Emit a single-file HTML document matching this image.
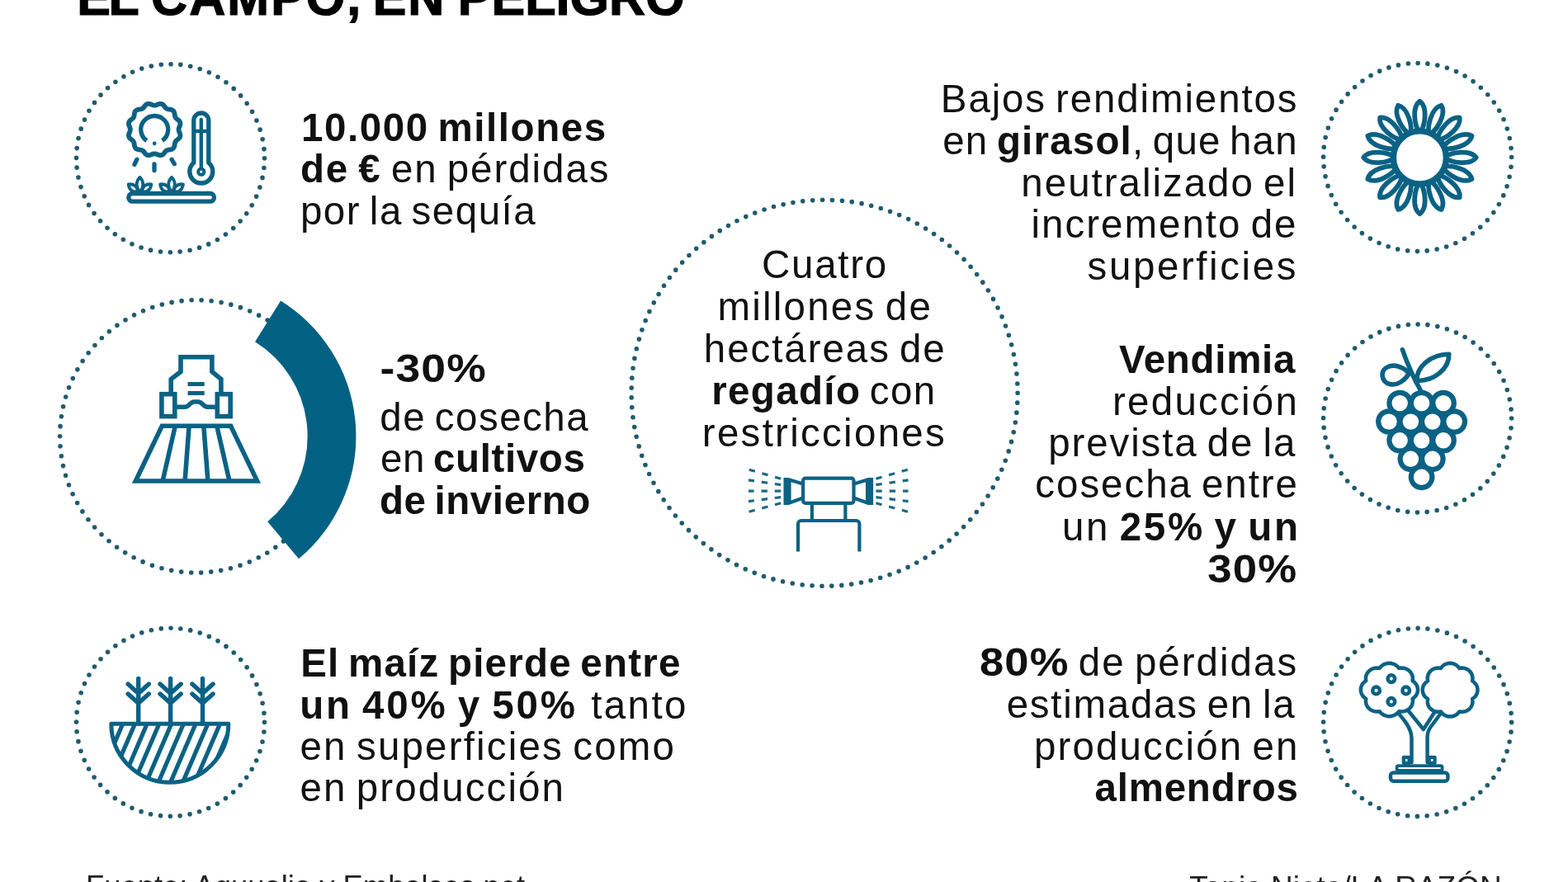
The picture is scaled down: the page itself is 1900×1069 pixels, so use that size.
<!DOCTYPE html>
<html lang="es">
<head>
<meta charset="utf-8">
<title>El campo, en peligro</title>
<style>
html,body{margin:0;padding:0;background:#fff;}
body{width:1900px;height:1069px;overflow:hidden;font-family:'Liberation Sans',sans-serif;}
svg{display:block;position:absolute;left:0;top:0;}
text{font-family:'Liberation Sans',sans-serif;fill:#111;}
.dot{fill:none;stroke:#1f5b6e;stroke-width:5.6;stroke-linecap:round;}
.ic{fill:none;stroke:#0b6284;stroke-width:5;stroke-linecap:round;stroke-linejoin:round;}
</style>
</head>
<body>
<svg width="1900" height="1069" viewBox="0 0 1900 1069">
<circle class="dot" cx="206.5" cy="191.7" r="114" stroke-dasharray="0 11.9381" transform="rotate(0 206.5 191.7)"/>
<circle class="dot" cx="237.8" cy="528.9" r="165.2" stroke-dasharray="0 12.0696" transform="rotate(0 237.8 528.9)"/>
<circle class="dot" cx="206.5" cy="875.3" r="114" stroke-dasharray="0 11.9381" transform="rotate(0 206.5 875.3)"/>
<circle class="dot" cx="999.1" cy="476.3" r="234" stroke-dasharray="0 11.9534" transform="rotate(0 999.1 476.3)"/>
<circle class="dot" cx="1717.6" cy="190.5" r="114" stroke-dasharray="0 11.9381" transform="rotate(0 1717.6 190.5)"/>
<circle class="dot" cx="1717.6" cy="507" r="114" stroke-dasharray="0 11.9381" transform="rotate(0 1717.6 507)"/>
<circle class="dot" cx="1717.6" cy="875.4" r="114" stroke-dasharray="0 11.9381" transform="rotate(0 1717.6 875.4)"/>
<path d="M324.57 389.40 A164.2 164.2 0 0 1 343.13 654.77" fill="none" stroke="#026183" stroke-width="58.8"/>
<g class="ic" id="ico-sun" stroke-width="5.3" style="stroke-width:5.3">
<path d="M187.2 127.7L188.2 127.6L189.3 127.3L190.4 126.9L191.5 126.4L192.7 126.0L193.8 125.8L195.0 125.8L196.1 126.1L197.1 126.6L198.0 127.4L198.8 128.3L199.5 129.3L200.3 130.2L201.0 131.0L201.8 131.6L202.8 132.0L203.9 132.3L205.0 132.5L206.2 132.6L207.4 132.9L208.6 133.3L209.5 133.9L210.3 134.7L210.9 135.6L211.3 136.8L211.6 138.0L211.7 139.2L211.9 140.3L212.2 141.4L212.6 142.3L213.2 143.2L214.0 143.9L214.9 144.7L215.9 145.4L216.8 146.2L217.6 147.1L218.1 148.1L218.4 149.2L218.4 150.4L218.2 151.5L217.8 152.7L217.3 153.8L216.9 154.9L216.6 156.0L216.5 157.0L216.6 158.0L216.9 159.1L217.3 160.2L217.8 161.3L218.2 162.5L218.4 163.6L218.4 164.8L218.1 165.9L217.6 166.9L216.8 167.8L215.9 168.6L214.9 169.3L214.0 170.1L213.2 170.8L212.6 171.7L212.2 172.6L211.9 173.7L211.7 174.8L211.6 176.0L211.3 177.2L210.9 178.4L210.3 179.3L209.5 180.1L208.6 180.7L207.4 181.1L206.2 181.4L205.0 181.5L203.9 181.7L202.8 182.0L201.8 182.4L201.0 183.0L200.3 183.8L199.5 184.7L198.8 185.7L198.0 186.6L197.1 187.4L196.1 187.9L195.0 188.2L193.8 188.2L192.7 188.0L191.5 187.6L190.4 187.1L189.3 186.7L188.2 186.4L187.2 186.3L186.2 186.4L185.1 186.7L184.0 187.1L182.9 187.6L181.7 188.0L180.6 188.2L179.4 188.2L178.3 187.9L177.3 187.4L176.4 186.6L175.6 185.7L174.9 184.7L174.1 183.8L173.4 183.0L172.5 182.4L171.6 182.0L170.5 181.7L169.4 181.5L168.2 181.4L167.0 181.1L165.8 180.7L164.9 180.1L164.1 179.3L163.5 178.4L163.1 177.2L162.8 176.0L162.7 174.8L162.5 173.7L162.2 172.6L161.8 171.7L161.2 170.8L160.4 170.1L159.5 169.3L158.5 168.6L157.6 167.8L156.8 166.9L156.3 165.9L156.0 164.8L156.0 163.6L156.2 162.5L156.6 161.3L157.1 160.2L157.5 159.1L157.8 158.0L157.9 157.0L157.8 156.0L157.5 154.9L157.1 153.8L156.6 152.7L156.2 151.5L156.0 150.4L156.0 149.2L156.3 148.1L156.8 147.1L157.6 146.2L158.5 145.4L159.5 144.7L160.4 143.9L161.2 143.2L161.8 142.3L162.2 141.4L162.5 140.3L162.7 139.2L162.8 138.0L163.1 136.8L163.5 135.6L164.1 134.7L164.9 133.9L165.8 133.3L167.0 132.9L168.2 132.6L169.4 132.5L170.5 132.3L171.6 132.0L172.5 131.6L173.4 131.0L174.1 130.2L174.9 129.3L175.6 128.3L176.4 127.4L177.3 126.6L178.3 126.1L179.4 125.8L180.6 125.8L181.7 126.0L182.9 126.4L184.0 126.9L185.1 127.3L186.2 127.6Z" stroke-width="5.8" style="stroke-width:5.8"/>
<path d="M196.7 170.5A16.5 16.5 0 1 0 177.7 170.5" stroke-linecap="butt" style="stroke-linecap:butt"/>
<path d="M187.2 173.8v0.1" stroke-width="4.6" style="stroke-width:4.6"/>
<path d="M165.9 193.2L162.9 199.4M187 198.8V206.6M208.1 193.2L211.3 198.8"/>
<path d="M234.8 146a9 9 0 0 1 18 0V197.3a14 14 0 1 1 -18 0Z"/>
<path d="M243.8 145V204M236 159H251.6" stroke-width="4.4"/>
<circle cx="243.8" cy="208.2" r="3.6" stroke-width="4"/>
<rect x="155.8" y="234.5" width="103.7" height="9.7" rx="4.8"/>
<g transform="translate(169.5 232.3)" stroke-width="3.8" style="stroke-width:3.8"><path d="M0 0C-5 -5 -5.200 -12 0 -17.500C5.200 -12 5 -5 0 0Z"/><path d="M0 0C-4.500 -4 -5 -9.500 0 -14.500C5 -9.500 4.500 -4 0 0Z" transform="translate(-2.500 0) rotate(-52)"/><path d="M0 0C-4.500 -4 -5 -9.500 0 -14.500C5 -9.500 4.500 -4 0 0Z" transform="translate(2.500 0) rotate(52)"/></g>
<g transform="translate(208.0 232.3)" stroke-width="3.8" style="stroke-width:3.8"><path d="M0 0C-5 -5 -5.200 -12 0 -17.500C5.200 -12 5 -5 0 0Z"/><path d="M0 0C-4.500 -4 -5 -9.500 0 -14.500C5 -9.500 4.500 -4 0 0Z" transform="translate(-2.500 0) rotate(-52)"/><path d="M0 0C-4.500 -4 -5 -9.500 0 -14.500C5 -9.500 4.500 -4 0 0Z" transform="translate(2.500 0) rotate(52)"/></g>
</g>
<g class="ic" id="ico-tractor" stroke-width="5.6" style="stroke-width:5.6;stroke-linejoin:miter;stroke-linecap:butt">
<path d="M196.3 516.3H279.6L311.6 583H164.3Z"/>
<path d="M212.3 516.3L197.1 583M229.1 516.3L224.1 583M246.8 516.3L251.9 583M262.8 516.3L278 583"/>
<path d="M207.2 477V459.6L219 450.5V432.8H256.9V450.5L267.9 459.6V477"/>
<rect x="195.9" y="477.7" width="15.9" height="26.9"/>
<rect x="263.3" y="477.700" width="15.9" height="26.9"/>
<path d="M212 493.2H224C229.500 493.2 230 487 235.500 487H240C245.500 487 246 493.2 251.500 493.2H263"/>
<path d="M227.500 465.5H247.7M227.500 476.4H247.7" stroke-width="5"/>
</g>
<g class="ic" id="ico-corn">
<clipPath id="bowl"><path d="M134.8 877.3H276.8A71 71 0 0 1 134.8 877.3Z"/></clipPath>
<path d="M135.8 873.3L99.7 957.3M150.5 873.3L114.4 957.3M165.2 873.3L129.1 957.3M179.9 873.3L143.8 957.3M194.6 873.3L158.5 957.3M209.4 873.3L173.3 957.3M224.1 873.3L188.0 957.3M238.8 873.3L202.7 957.3M253.6 873.3L217.5 957.3M268.3 873.3L232.2 957.3M283.0 873.3L246.9 957.3M297.7 873.3L261.6 957.3M312.4 873.3L276.3 957.3" clip-path="url(#bowl)" stroke-linecap="butt" style="stroke-linecap:butt" stroke-width="5.2"/>
<path d="M134.8 877.3H276.8A71 71 0 0 1 134.8 877.3Z"/>
<path d="M167.7 877.3V822.5M155.1 829.1L167.7 840.4L180.3 829.1M155.1 841.0L167.7 852.3L180.3 841.0M206.6 877.3V822.5M194.0 829.1L206.6 840.4L219.2 829.1M194.0 841.0L206.6 852.3L219.2 841.0M245.5 877.3V822.5M232.9 829.1L245.5 840.4L258.1 829.1M232.9 841.0L245.5 852.3L258.1 841.0" stroke-width="5.4"/>
</g>
<g class="ic" id="ico-sprinkler" stroke-width="4.2" style="stroke-width:4.2">
<rect x="973.1" y="579.6" width="61.4" height="30.2" rx="3"/>
<path d="M973 586.5L956.5 581.5V609.5L973 603.5M1034.6 586.5L1051.1 581.5V609.5L1034.6 603.5"/>
<path d="M953 579V612M1054.6 579V612" stroke-width="7" stroke-linecap="butt" style="stroke-width:7;stroke-linecap:butt"/>
<path d="M946.2 580.2L907 569.0M1061.4 580.2L1100.6 569.0M946.2 587.6L907 581.8M1061.4 587.6L1100.6 581.8M946.2 595.2L907 595.2M1061.4 595.2L1100.6 595.2M946.2 602.6L907 607.6M1061.4 602.6L1100.6 607.6M946.2 609.8L907 620.4M1061.4 609.8L1100.6 620.4" stroke-width="3.2" stroke-dasharray="7.4 8.9" stroke-linecap="butt" style="stroke-width:3.2;stroke-linecap:butt;stroke:#1a6a86"/>
<path d="M983.9 611V630M1024.4 611V630"/>
<path d="M967 668.5V635a4 4 0 0 1 4-4H1037.4a4 4 0 0 1 4 4V668.5" stroke-linecap="butt" style="stroke-linecap:butt"/>
</g>
<g class="ic" id="ico-sunflower" stroke-width="5.8" style="stroke-width:5.8" transform="translate(1720.4 190.9)">
<path d="M0 -30C-6.5 -38 -10 -61 0 -68.3C10 -61 6.5 -38 0 -30Z" transform="rotate(0.0)"/>
<path d="M0 -30C-6.5 -38 -10 -61 0 -68.3C10 -61 6.5 -38 0 -30Z" transform="rotate(22.5)"/>
<path d="M0 -30C-6.5 -38 -10 -61 0 -68.3C10 -61 6.5 -38 0 -30Z" transform="rotate(45.0)"/>
<path d="M0 -30C-6.5 -38 -10 -61 0 -68.3C10 -61 6.5 -38 0 -30Z" transform="rotate(67.5)"/>
<path d="M0 -30C-6.5 -38 -10 -61 0 -68.3C10 -61 6.5 -38 0 -30Z" transform="rotate(90.0)"/>
<path d="M0 -30C-6.5 -38 -10 -61 0 -68.3C10 -61 6.5 -38 0 -30Z" transform="rotate(112.5)"/>
<path d="M0 -30C-6.5 -38 -10 -61 0 -68.3C10 -61 6.5 -38 0 -30Z" transform="rotate(135.0)"/>
<path d="M0 -30C-6.5 -38 -10 -61 0 -68.3C10 -61 6.5 -38 0 -30Z" transform="rotate(157.5)"/>
<path d="M0 -30C-6.5 -38 -10 -61 0 -68.3C10 -61 6.5 -38 0 -30Z" transform="rotate(180.0)"/>
<path d="M0 -30C-6.5 -38 -10 -61 0 -68.3C10 -61 6.5 -38 0 -30Z" transform="rotate(202.5)"/>
<path d="M0 -30C-6.5 -38 -10 -61 0 -68.3C10 -61 6.5 -38 0 -30Z" transform="rotate(225.0)"/>
<path d="M0 -30C-6.5 -38 -10 -61 0 -68.3C10 -61 6.5 -38 0 -30Z" transform="rotate(247.5)"/>
<path d="M0 -30C-6.5 -38 -10 -61 0 -68.3C10 -61 6.5 -38 0 -30Z" transform="rotate(270.0)"/>
<path d="M0 -30C-6.5 -38 -10 -61 0 -68.3C10 -61 6.5 -38 0 -30Z" transform="rotate(292.5)"/>
<path d="M0 -30C-6.5 -38 -10 -61 0 -68.3C10 -61 6.5 -38 0 -30Z" transform="rotate(315.0)"/>
<path d="M0 -30C-6.5 -38 -10 -61 0 -68.3C10 -61 6.5 -38 0 -30Z" transform="rotate(337.5)"/>
<circle cx="0" cy="0" r="32" fill="#fff" style="fill:#fff;stroke-width:7.4"/>
</g>
<g class="ic" id="ico-grapes" stroke-width="6.2" style="stroke-width:6.2">
<circle cx="1696.2" cy="488.6" r="12.8" fill="#fff" style="fill:#fff"/>
<circle cx="1722.6" cy="488.6" r="12.8" fill="#fff" style="fill:#fff"/>
<circle cx="1749.0" cy="488.6" r="12.8" fill="#fff" style="fill:#fff"/>
<circle cx="1683.0" cy="511.1" r="12.8" fill="#fff" style="fill:#fff"/>
<circle cx="1709.4" cy="511.1" r="12.8" fill="#fff" style="fill:#fff"/>
<circle cx="1735.8" cy="511.1" r="12.8" fill="#fff" style="fill:#fff"/>
<circle cx="1762.2" cy="511.1" r="12.8" fill="#fff" style="fill:#fff"/>
<circle cx="1696.2" cy="533.8" r="12.8" fill="#fff" style="fill:#fff"/>
<circle cx="1722.6" cy="533.8" r="12.8" fill="#fff" style="fill:#fff"/>
<circle cx="1749.0" cy="533.8" r="12.8" fill="#fff" style="fill:#fff"/>
<circle cx="1709.4" cy="556.3" r="12.8" fill="#fff" style="fill:#fff"/>
<circle cx="1735.8" cy="556.3" r="12.8" fill="#fff" style="fill:#fff"/>
<circle cx="1722.6" cy="578.3" r="12.8" fill="#fff" style="fill:#fff"/>
<path d="M1721.6 473.500C1714 460 1705 440 1699.400 423.800" stroke-width="5.6" style="stroke-width:5.6"/>
<path d="M1707.500 452.500C1700 444 1688 440.500 1680 445.500C1672 450.500 1674 463 1684 465.500C1694 468 1703 460 1707.500 452.500Z" stroke-width="5.6" style="stroke-width:5.6"/>
<path d="M1717 461.500C1716 445 1733 429.500 1755.800 429.200C1756 447 1738 462 1717 461.500Z" stroke-width="5.6" style="stroke-width:5.6"/>
</g>
<g class="ic" id="ico-tree" stroke-width="4.5" style="stroke-width:4.5">
<path d="M1690 860C1702 872 1710.500 883 1710.500 895V924"/>
<path d="M1749 860.500L1734 880.500C1731 884.500 1729.600 888 1729.600 893V924"/>
<path d="M1704.500 859L1724.900 884L1740.500 859.700"/>
<path d="M1671.7 809.8L1673.4 807.7L1675.6 806.1L1678.0 804.8L1680.6 804.1L1683.4 803.8L1686.2 804.1L1688.8 804.8L1691.2 806.1L1693.4 807.7L1695.1 809.8L1695.1 809.8L1697.8 809.5L1700.6 809.7L1703.3 810.4L1705.7 811.6L1707.9 813.2L1709.6 815.2L1710.9 817.5L1711.7 820.0L1711.9 822.6L1711.6 825.1L1711.6 825.1L1713.8 826.7L1715.6 828.7L1716.9 831.0L1717.7 833.4L1718.0 836.0L1717.7 838.6L1716.9 841.0L1715.6 843.3L1713.8 845.3L1711.6 846.9L1711.6 846.9L1711.9 849.4L1711.7 852.0L1710.9 854.5L1709.6 856.8L1707.9 858.8L1705.7 860.4L1703.3 861.6L1700.6 862.3L1697.8 862.5L1695.1 862.2L1695.1 862.2L1693.4 864.3L1691.2 865.9L1688.8 867.2L1686.2 867.9L1683.4 868.2L1680.6 867.9L1678.0 867.2L1675.6 865.9L1673.4 864.3L1671.7 862.2L1671.7 862.2L1669.0 862.5L1666.2 862.3L1663.5 861.6L1661.1 860.4L1658.9 858.8L1657.2 856.8L1655.9 854.5L1655.1 852.0L1654.9 849.4L1655.2 846.9L1655.2 846.9L1653.0 845.3L1651.2 843.3L1649.9 841.0L1649.1 838.6L1648.8 836.0L1649.1 833.4L1649.9 831.0L1651.2 828.7L1653.0 826.7L1655.2 825.1L1655.2 825.1L1654.9 822.6L1655.1 820.0L1655.9 817.5L1657.2 815.2L1658.9 813.2L1661.1 811.6L1663.5 810.4L1666.2 809.7L1669.0 809.5L1671.7 809.8Z" fill="#fff" style="fill:#fff"/>
<path d="M1745.9 810.0L1747.5 807.9L1749.5 806.1L1751.9 804.9L1754.4 804.1L1757.1 803.8L1759.8 804.1L1762.3 804.9L1764.7 806.1L1766.7 807.9L1768.3 810.0L1768.3 810.0L1771.0 809.6L1773.6 809.8L1776.2 810.4L1778.6 811.6L1780.7 813.3L1782.4 815.3L1783.6 817.6L1784.3 820.1L1784.5 822.8L1784.1 825.3L1784.1 825.3L1786.3 826.9L1788.1 828.9L1789.4 831.1L1790.2 833.6L1790.5 836.2L1790.2 838.8L1789.4 841.3L1788.1 843.5L1786.3 845.5L1784.1 847.1L1784.1 847.1L1784.5 849.6L1784.3 852.3L1783.6 854.8L1782.4 857.1L1780.7 859.1L1778.6 860.8L1776.2 862.0L1773.6 862.6L1771.0 862.8L1768.3 862.4L1768.3 862.4L1766.7 864.5L1764.7 866.3L1762.3 867.5L1759.8 868.3L1757.1 868.6L1754.4 868.3L1751.9 867.5L1749.5 866.3L1747.5 864.5L1745.9 862.4L1745.9 862.4L1743.2 862.8L1740.6 862.6L1738.0 862.0L1735.6 860.8L1733.5 859.1L1731.8 857.1L1730.6 854.8L1729.9 852.3L1729.7 849.6L1730.1 847.1L1730.1 847.1L1727.9 845.5L1726.1 843.5L1724.8 841.3L1724.0 838.8L1723.7 836.2L1724.0 833.6L1724.8 831.1L1726.1 828.9L1727.9 826.9L1730.1 825.3L1730.1 825.3L1729.7 822.8L1729.9 820.1L1730.6 817.6L1731.8 815.3L1733.5 813.3L1735.6 811.6L1738.0 810.4L1740.6 809.8L1743.2 809.6L1745.9 810.0Z" fill="#fff" style="fill:#fff"/>
<circle cx="1685.9" cy="822.6" r="4.3"/><circle cx="1667.6" cy="836.9" r="4.3"/><circle cx="1703.7" cy="836.9" r="4.3"/><circle cx="1685.9" cy="850.4" r="4.3"/>
<rect x="1700.800" y="917.800" width="6.800" height="7" stroke-width="4.200" style="stroke-width:4.200"/><rect x="1731.800" y="917.800" width="6.800" height="7" stroke-width="4.200" style="stroke-width:4.200"/>
<rect x="1692.600" y="928.200" width="55" height="5.600" rx="2" stroke-width="3.800" style="stroke-width:3.800"/>
<rect x="1685" y="936.600" width="69.400" height="10.100" rx="3.500"/>
</g>
<text xml:space="preserve" x="364.95" y="170.5" font-size="47.5" letter-spacing="1.579" word-spacing="-4"><tspan font-weight="700">10.000 millones</tspan></text>
<text xml:space="preserve" x="363.9" y="221.0" font-size="47.5" letter-spacing="1.947" word-spacing="-4"><tspan font-weight="700">de €</tspan> en pérdidas</text>
<text xml:space="preserve" x="363.9" y="271.6" font-size="47.5" letter-spacing="1.517" word-spacing="-4">por la sequía</text>
<text xml:space="preserve" x="0" y="0" transform="translate(460.45 462.7) scale(1.127 1)" font-size="47.5" letter-spacing="1.0" word-spacing="-4"><tspan font-weight="700">-30%</tspan></text>
<text xml:space="preserve" x="460.35" y="521.6" font-size="47.5" letter-spacing="1.478" word-spacing="-4">de cosecha</text>
<text xml:space="preserve" x="461.05" y="572.0" font-size="47.5" letter-spacing="0.63" word-spacing="-4">en <tspan font-weight="700">cultivos</tspan></text>
<text xml:space="preserve" x="460.0" y="623.4" font-size="47.5" letter-spacing="0.6" word-spacing="-4"><tspan font-weight="700">de invierno</tspan></text>
<text xml:space="preserve" x="364.2" y="819.5" font-size="47.5" letter-spacing="1.232" word-spacing="-4"><tspan font-weight="700">El maíz pierde entre</tspan></text>
<text xml:space="preserve" x="363.15" y="870.5" font-size="47.5" letter-spacing="2.882" word-spacing="-4"><tspan font-weight="700">un 40% y 50%</tspan></text>
<text xml:space="preserve" x="716.25" y="870.5" font-size="47.5" letter-spacing="2.375" word-spacing="-4">tanto</text>
<text xml:space="preserve" x="363.4" y="921.3" font-size="47.5" letter-spacing="2.178" word-spacing="-4">en superficies como</text>
<text xml:space="preserve" x="363.4" y="971.3" font-size="47.5" letter-spacing="2.1" word-spacing="-4">en producción</text>
<text xml:space="preserve" x="1139.85" y="136.0" font-size="47.5" letter-spacing="1.865" word-spacing="-4">Bajos rendimientos</text>
<text xml:space="preserve" x="1142.25" y="187.3" font-size="47.5" letter-spacing="1.194" word-spacing="-4">en <tspan font-weight="700">girasol</tspan>, que han</text>
<text xml:space="preserve" x="1237.35" y="237.8" font-size="47.5" letter-spacing="1.979" word-spacing="-4">neutralizado el</text>
<text xml:space="preserve" x="1249.55" y="288.3" font-size="47.5" letter-spacing="1.992" word-spacing="-4">incremento de</text>
<text xml:space="preserve" x="1317.55" y="338.9" font-size="47.5" letter-spacing="2.59" word-spacing="-4">superficies</text>
<text xml:space="preserve" x="1355.95" y="452.3" font-size="47.5" letter-spacing="0.7" word-spacing="-4"><tspan font-weight="700">Vendimia</tspan></text>
<text xml:space="preserve" x="1348.0" y="503.4" font-size="47.5" letter-spacing="2.25" word-spacing="-4">reducción</text>
<text xml:space="preserve" x="1270.2" y="552.5" font-size="47.5" letter-spacing="1.892" word-spacing="-4">prevista de la</text>
<text xml:space="preserve" x="1254.35" y="603.0" font-size="47.5" letter-spacing="1.942" word-spacing="-4">cosecha entre</text>
<text xml:space="preserve" x="1287.0" y="654.5" font-size="47.5" letter-spacing="2.6" word-spacing="-4">un <tspan font-weight="700">25% y un</tspan></text>
<text xml:space="preserve" x="0" y="0" transform="translate(1463.29 705.6) scale(1.1116 1)" font-size="47.5" letter-spacing="1.0" word-spacing="-4"><tspan font-weight="700">30%</tspan></text>
<text xml:space="preserve" x="0" y="0" transform="translate(1186.99 819.3) scale(1.1074 1)" font-size="47.5" letter-spacing="1.0" word-spacing="-4"><tspan font-weight="700">80%</tspan></text>
<text xml:space="preserve" x="1306.8" y="819.3" font-size="47.5" letter-spacing="2.02" word-spacing="-4">de pérdidas</text>
<text xml:space="preserve" x="1219.7" y="870.0" font-size="47.5" letter-spacing="1.729" word-spacing="-4">estimadas en la</text>
<text xml:space="preserve" x="1253.0" y="920.5" font-size="47.5" letter-spacing="2.083" word-spacing="-4">producción en</text>
<text xml:space="preserve" x="1326.45" y="971.4" font-size="47.5" letter-spacing="0.787" word-spacing="-4"><tspan font-weight="700">almendros</tspan></text>
<text xml:space="preserve" x="923.05" y="337.1" font-size="47.5" letter-spacing="1.7" word-spacing="-4">Cuatro</text>
<text xml:space="preserve" x="869.45" y="388.0" font-size="47.5" letter-spacing="2.21" word-spacing="-4">millones de</text>
<text xml:space="preserve" x="852.85" y="438.5" font-size="47.5" letter-spacing="1.936" word-spacing="-4">hectáreas de</text>
<text xml:space="preserve" x="862.2" y="489.5" font-size="47.5" letter-spacing="1.36" word-spacing="-4"><tspan font-weight="700">regadío</tspan> con</text>
<text xml:space="preserve" x="850.8" y="540.6" font-size="47.5" letter-spacing="2.283" word-spacing="-4">restricciones</text>
<text xml:space="preserve" x="93.3" y="18.0" font-size="61" letter-spacing="-2.4" word-spacing="0" style="fill:#000;stroke:#000;stroke-width:1.2"><tspan font-weight="700">EL</tspan></text>
<text xml:space="preserve" x="183.1" y="18.0" font-size="61" letter-spacing="2.04" word-spacing="0" style="fill:#000;stroke:#000;stroke-width:1.2"><tspan font-weight="700">CAMPO,</tspan></text>
<text xml:space="preserve" x="451.7" y="18.0" font-size="61" letter-spacing="2.0" word-spacing="0" style="fill:#000;stroke:#000;stroke-width:1.2"><tspan font-weight="700">EN</tspan></text>
<text xml:space="preserve" x="554.65" y="18.0" font-size="61" letter-spacing="0.083" word-spacing="0" style="fill:#000;stroke:#000;stroke-width:1.2"><tspan font-weight="700">PELIGRO</tspan></text>
<text x="104" y="1086.8" font-size="36.4" style="fill:#222">Fuente: Aquualia y Embalses.net</text>
<text x="1441.3" y="1088.2" font-size="37" style="fill:#222">Tania Nieto/LA RAZÓN</text>
</svg>
</body>
</html>
